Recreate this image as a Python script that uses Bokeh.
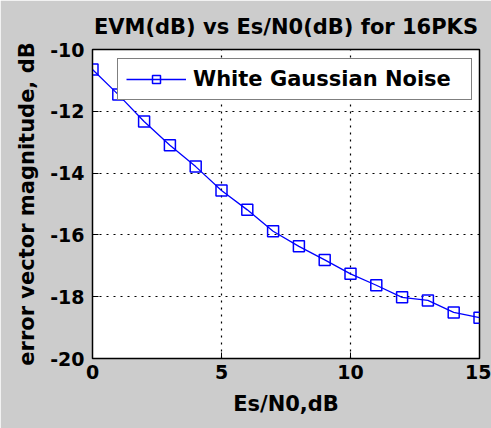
from bokeh.plotting import figure
from bokeh.models import Range1d, FixedTicker, Legend, LegendItem, Title
from bokeh.embed import file_html
from bokeh.resources import INLINE

esn0 = [0, 1, 2, 3, 4, 5, 6, 7, 8, 9, 10, 11, 12, 13, 14, 15]
evm_db = [-10.65, -11.46, -12.33, -13.10, -13.79, -14.56, -15.19, -15.88,
          -16.37, -16.81, -17.26, -17.63, -18.02, -18.12, -18.51, -18.68]
x_ticks = [0, 5, 10, 15]
y_ticks = [-20, -18, -16, -14, -12, -10]
series_name = "White Gaussian Noise"
title_text = "EVM(dB) vs Es/N0(dB) for 16PKS"

FONT = "DejaVu Sans"
BG = "#cccccc"

p = figure(width=491, height=428, output_backend="svg", toolbar_location=None,
           x_range=Range1d(0, 15), y_range=Range1d(-20, -10),
           x_axis_label="Es/N0,dB", y_axis_label="error vector magnitude, dB",
           min_border_left=92, min_border_right=12, min_border_top=49,
           min_border_bottom=70)
p.border_fill_color = BG
p.background_fill_color = "white"
p.outline_line_color = "black"
p.outline_line_width = 1.5

p.title.text = title_text
p.title.text_font = FONT
p.title.text_font_size = "21px"
p.title.text_font_style = "bold"
p.title.align = "center"
p.title.text_color = "black"
p.title.standoff = 0

spacer = Title(text=" ", text_font_size="8px", standoff=0)
p.add_layout(spacer, "above")

for ax, ticks in ((p.xaxis[0], x_ticks), (p.yaxis[0], y_ticks)):
    ax.ticker = FixedTicker(ticks=ticks)
    ax.major_label_overrides = {t: str(t) for t in ticks}
    ax.major_tick_in = 6
    ax.major_tick_out = 0
    ax.minor_tick_line_color = None
    ax.axis_line_color = "black"
    ax.major_tick_line_color = "black"
    ax.major_label_text_font = FONT
    ax.major_label_text_font_size = "19px"
    ax.major_label_text_font_style = "bold"
    ax.major_label_text_color = "black"
    ax.axis_label_text_font = FONT
    ax.axis_label_text_font_size = "21px"
    ax.axis_label_text_font_style = "bold"
    ax.axis_label_text_color = "black"
p.xaxis.major_label_standoff = 6
p.yaxis.major_label_standoff = 8
p.xaxis.axis_label_standoff = 10
p.yaxis.axis_label_standoff = 8

p.xgrid.ticker = FixedTicker(ticks=x_ticks)
p.ygrid.ticker = FixedTicker(ticks=y_ticks)
for g in (p.xgrid[0], p.ygrid[0]):
    g.grid_line_color = "black"
    g.grid_line_dash = "2 5"
    g.grid_line_width = 1.2

r_line = p.line(esn0, evm_db, line_color="blue", line_width=1.3)
r_mark = p.scatter(esn0, evm_db, marker="square", size=11, line_color="blue",
                   line_width=1.5, fill_alpha=0)

legend = Legend(items=[LegendItem(label=series_name, renderers=[r_line, r_mark])],
                location=(25, 258))
legend.label_text_font = FONT
legend.label_text_font_size = "21px"
legend.label_text_font_style = "bold"
legend.label_text_color = "black"
legend.border_line_color = "black"
legend.border_line_width = 1.5
legend.background_fill_color = "white"
legend.background_fill_alpha = 1
legend.glyph_width = 60
legend.glyph_height = 20
legend.label_width = 270
legend.label_standoff = 7
legend.padding = 8
legend.margin = 0
p.add_layout(legend, "center")

open("out.html", "w").write(file_html(p, INLINE))
